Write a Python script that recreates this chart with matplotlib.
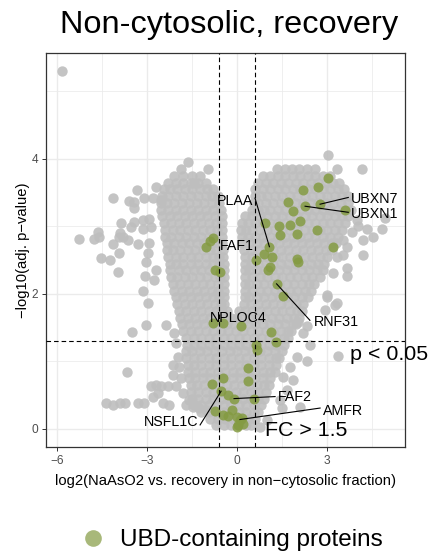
import matplotlib
matplotlib.use("Agg")
import matplotlib.pyplot as plt
from matplotlib.lines import Line2D
import numpy as np

plt.rcParams['font.family'] = ['Liberation Sans', 'DejaVu Sans']

# ---------------- data ----------------
# dense grey cloud of all proteins, entered row by row: (y, [x values])
grey_rows = [
    (3.95, [-1.64]),
    (3.85, [-1.87, -0.98, 1.32, 1.6, 1.82, 2.05, 2.32, 2.6, 3.32, 4.16]),
    (3.75, [-2.09, -1.8, -1.5, -1.25, 0.85, 1.1, 1.35, 1.6, 1.85, 2.1, 2.35, 2.6, 2.85, 3.1]),
    (3.65, [-2.3, -2.05, -1.8, -1.55, -1.3, -1.05, 0.7, 0.95, 1.2, 1.45, 1.7, 1.95, 2.2, 2.45, 2.7, 2.95, 3.2, 3.4]),
    (3.55, [-2.45, -2.25, -2.0, -1.75, -1.5, -1.25, -1.0, -0.8, 0.6, 0.85, 1.1, 1.35, 1.6, 1.85, 2.1, 2.35, 2.6, 2.85, 3.1, 3.35, 3.55]),
    (3.45, [-2.5, -2.3, -2.05, -1.8, -1.55, -1.3, -1.05, -0.85, -0.65, 0.6, 0.8, 1.0, 1.25, 1.5, 1.75, 2.0, 2.25, 2.5, 2.75, 3.0, 3.25, 3.5, 3.7]),
    (3.35, [-2.55, -2.35, -2.1, -1.85, -1.6, -1.35, -1.1, -0.85, -0.6, 0.55, 0.7, 0.95, 1.2, 1.45, 1.7, 1.95, 2.2, 2.45, 2.7, 2.95, 3.2, 3.45, 3.7]),
    (3.25, [-2.55, -2.3, -2.05, -1.8, -1.55, -1.3, -1.05, -0.8, -0.55, 0.5, 0.7, 0.9, 1.1, 1.35, 1.6, 1.85, 2.1, 2.35, 2.6, 2.85, 3.1, 3.35, 3.6, 3.8]),
    (3.15, [-2.5, -2.25, -2.0, -1.75, -1.5, -1.25, -1.0, -0.75, -0.5, 0.25, 0.5, 0.75, 1.0, 1.25, 1.5, 1.75, 2.0, 2.25, 2.5, 2.75, 3.0, 3.25, 3.5, 3.7]),
    (3.05, [-2.45, -2.2, -1.95, -1.7, -1.45, -1.2, -0.95, -0.7, -0.5, 0.15, 0.35, 0.6, 0.85, 1.1, 1.35, 1.6, 1.85, 2.1, 2.35, 2.6, 2.85, 3.1, 3.35, 3.6]),
    (2.95, [-2.4, -2.15, -1.9, -1.65, -1.4, -1.15, -0.9, -0.68, -0.5, 0.12, 0.3, 0.5, 0.75, 1.0, 1.25, 1.5, 1.75, 2.0, 2.25, 2.5, 2.75, 3.0, 3.25, 3.5]),
    (2.85, [-2.4, -2.2, -1.95, -1.7, -1.45, -1.2, -0.95, -0.72, -0.5, 0.15, 0.35, 0.6, 0.85, 1.1, 1.35, 1.6, 1.85, 2.1, 2.35, 2.6, 2.85, 3.1, 3.35]),
    (2.75, [-2.35, -2.1, -1.85, -1.6, -1.35, -1.1, -0.85, -0.65, -0.5, 0.18, 0.4, 0.65, 0.9, 1.15, 1.4, 1.65, 1.9, 2.15, 2.4, 2.65, 2.9, 3.15, 3.3]),
    (2.65, [-2.35, -2.15, -1.9, -1.65, -1.4, -1.15, -0.9, -0.7, -0.48, 0.22, 0.45, 0.7, 0.95, 1.2, 1.45, 1.7, 1.95, 2.2, 2.45, 2.7, 2.95, 3.15]),
    (2.55, [-2.3, -2.05, -1.8, -1.55, -1.3, -1.05, -0.8, -0.6, -0.48, 0.25, 0.5, 0.75, 1.0, 1.25, 1.5, 1.75, 2.0, 2.25, 2.5, 2.75, 3.0]),
    (2.45, [-2.25, -2.05, -1.8, -1.55, -1.3, -1.05, -0.8, -0.6, -0.45, 0.25, 0.45, 0.7, 0.95, 1.2, 1.45, 1.7, 1.95, 2.2, 2.45, 2.7, 2.9]),
    (2.35, [-2.22, -1.95, -1.7, -1.45, -1.2, -0.95, -0.7, -0.45, 0.25, 0.4, 0.65, 0.9, 1.15, 1.4, 1.65, 1.9, 2.15, 2.4, 2.65, 2.85]),
    (2.25, [-2.2, -2.0, -1.75, -1.5, -1.25, -1.0, -0.75, -0.58, -0.45, 0.25, 0.5, 0.75, 1.0, 1.25, 1.5, 1.75, 2.0, 2.25, 2.5, 2.75]),
    (2.15, [-2.15, -1.9, -1.65, -1.4, -1.15, -0.9, -0.65, -0.45, 0.25, 0.4, 0.65, 0.9, 1.15, 1.4, 1.65, 1.9, 2.15, 2.4, 2.55]),
    (2.05, [-2.1, -1.85, -1.6, -1.35, -1.1, -0.85, -0.62, -0.45, 0.25, 0.5, 0.75, 1.0, 1.25, 1.5, 1.75, 2.0, 2.25, 2.45]),
    (1.95, [-2.05, -1.8, -1.55, -1.3, -1.05, -0.8, -0.6, -0.45, 0.25, 0.4, 0.65, 0.9, 1.15, 1.4, 1.65, 1.9, 2.15, 2.35]),
    (1.85, [-2.0, -1.75, -1.5, -1.25, -1.0, -0.75, -0.55, -0.42, 0.22, 0.45, 0.7, 0.95, 1.2, 1.45, 1.7, 1.95, 2.2]),
    (1.75, [-1.95, -1.7, -1.45, -1.2, -0.95, -0.7, -0.5, -0.35, 0.05, 0.25, 0.5, 0.75, 1.0, 1.25, 1.5, 1.75, 2.0, 2.15]),
    (1.65, [-1.9, -1.65, -1.4, -1.15, -0.9, -0.65, -0.4, -0.2, 0.0, 0.2, 0.4, 0.65, 0.9, 1.15, 1.4, 1.65, 1.9, 2.05]),
    (1.55, [-1.85, -1.6, -1.35, -1.1, -0.85, -0.6, -0.35, -0.1, 0.15, 0.35, 0.6, 0.85, 1.1, 1.35, 1.6, 1.85, 1.95]),
    (1.45, [-1.8, -1.55, -1.3, -1.05, -0.8, -0.55, -0.3, -0.05, 0.2, 0.45, 0.7, 0.95, 1.2, 1.45, 1.7, 1.8]),
    (1.35, [-1.7, -1.45, -1.2, -0.95, -0.7, -0.45, -0.2, 0.05, 0.3, 0.55, 0.8, 1.05, 1.3, 1.55, 1.7]),
    (1.25, [-1.68, -1.45, -1.2, -0.95, -0.7, -0.45, -0.2, 0.05, 0.3, 0.55, 0.8, 1.05, 1.3, 1.55]),
    (1.15, [-1.7, -1.5, -1.25, -1.0, -0.75, -0.5, -0.25, 0.0, 0.25, 0.5, 0.75, 1.0, 1.25, 1.5]),
    (1.05, [-1.7, -1.45, -1.2, -0.95, -0.7, -0.45, -0.2, 0.05, 0.3, 0.55, 0.8, 1.05, 1.3, 1.4]),
    (0.95, [-1.65, -1.45, -1.2, -0.95, -0.7, -0.45, -0.2, 0.05, 0.3, 0.55, 0.8, 1.05, 1.3]),
    (0.85, [-1.65, -1.4, -1.15, -0.9, -0.65, -0.4, -0.15, 0.1, 0.35, 0.6, 0.85, 1.1, 1.25]),
    (0.75, [-1.6, -1.4, -1.15, -0.9, -0.65, -0.4, -0.15, 0.1, 0.35, 0.6, 0.85, 1.1]),
    (0.65, [-1.55, -1.35, -1.1, -0.85, -0.6, -0.35, -0.1, 0.15, 0.4, 0.65, 0.9, 1.05]),
    (0.55, [-1.55, -1.3, -1.05, -0.8, -0.55, -0.3, -0.05, 0.2, 0.45, 0.7, 0.95]),
    (0.45, [-1.5, -1.3, -1.05, -0.8, -0.55, -0.3, -0.05, 0.2, 0.45, 0.7, 0.9]),
    (0.35, [-1.45, -1.2, -0.95, -0.7, -0.45, -0.2, 0.05, 0.3, 0.55, 0.8]),
    (0.25, [-1.2, -0.95, -0.7, -0.45, -0.2, 0.05, 0.3, 0.55, 0.7]),
    (0.15, [-0.9, -0.65, -0.4, -0.15, 0.1, 0.35, 0.6]),
    (0.06, [-0.7, -0.45, -0.2, 0.05, 0.3, 0.45]),
]

# scattered grey proteins outside the dense cloud
grey_extra_x = [-5.84, -2.7, -3.34, -4.14, -3.59, -3.42, -3.42, -3.09, -2.81, -2.53, -1.42,
                -3.87, -3.42, -3.14, -2.92, -3.53, -3.14, -2.87, -4.64, -4.76, -4.59, -5.26,
                -3.94, -3.8, -3.64, -3.9, -4.12, -3.31, -3.94, -4.53, -4.23, -3.98, -3.06,
                -3.14, -2.98, -3.03, -2.92, -2.7, -2.76,
                -2.98, -3.03, -3.5, -2.37, -3.67, -4.37, -4.14, -3.9, -3.72, -3.31, -3.09,
                -2.81, -2.64, -2.48, -2.26, -2.87, -2.7, -2.53, -2.31, -2.14, -1.87, -2.09,
                -2.03, -1.98, -1.92, -2.14, -2.03, -1.81, -1.59, -1.7, -1.48, -1.26, -1.03,
                3.04, 4.82, 4.54, 4.21, 4.04, 4.32, 4.93, 3.66, 3.66, 2.99, 3.99, 3.82,
                3.54, 3.66, 4.21, 3.32, 3.54, 3.21,
                3.38, 2.32, 1.88, 2.1, 3.27, 2.32, 2.21, 2.04, 2.43, 2.93, 1.99, 1.77,
                1.54, 1.66, 1.43, 1.49, 0.99, 0.77, 2.99, 3.32]
grey_extra_y = [5.31, 3.59, 3.54, 3.42, 3.38, 3.37, 3.27, 3.42, 3.42, 3.39, 3.64,
                3.05, 3.07, 3.09, 3.11, 2.99, 2.97, 2.99, 2.92, 2.81, 2.85, 2.81,
                2.84, 2.84, 2.8, 2.9, 2.74, 2.74, 2.6, 2.53, 2.51, 2.33, 2.26,
                2.05, 2.6, 2.48, 2.75, 2.36, 2.21,
                1.86, 1.54, 1.44, 1.54, 0.85, 0.38, 0.36, 0.38, 0.38, 0.38, 0.38,
                0.48, 0.53, 0.38, 0.36, 0.63, 0.65, 0.63, 0.63, 0.8, 0.75, 1.42,
                1.27, 1.07, 0.92, 0.95, 0.63, 0.53, 0.43, 0.36, 0.33, 0.31, 0.28,
                4.06, 2.97, 2.85, 2.58, 3.0, 2.97, 3.12, 2.38, 2.26, 1.99, 3.09, 2.92,
                2.8, 2.7, 2.8, 2.55, 2.58, 2.31,
                1.08, 1.0, 0.73, 0.33, 1.84, 1.52, 1.42, 1.59, 1.24, 1.76, 1.07, 0.92,
                0.77, 0.58, 0.43, 0.31, 0.13, 0.03, 1.96, 1.86]

# UBD-containing proteins (highlighted)
ubd_x = [3.04, 2.71, 2.19, 2.77, 2.27, 1.71, 1.88, 3.6, 2.1, 1.77, 1.4, 0.93, 1.99, 1.43,
         2.68, 3.19, 1.08, 0.91, 1.16, 0.63, 1.1, 1.02, 1.99, 2.02, 1.32, 1.54,
         -1.03, -0.79, -0.9, -0.73, -0.57,
         -0.79, -0.46, 0.13, 1.12, 1.3, 0.63, 0.67, 0.38, 0.38, -0.46, -0.84, -0.53,
         -0.29, -0.1, 0.57, -0.73, -0.46, -0.18, -0.29, -0.01, 0.16, 0.04, -0.01, 0.21, 0.1]
ubd_y = [3.72, 3.59, 3.54, 3.33, 3.30, 3.37, 3.23, 3.24, 3.08, 3.02, 3.0, 3.05, 2.89, 2.87,
         2.95, 2.69, 2.7, 2.59, 2.55, 2.51, 2.4, 2.36, 2.52, 2.48, 2.15, 1.97,
         2.69, 2.83, 2.78, 2.36, 2.33,
         1.57, 1.57, 1.53, 1.43, 1.29, 1.24, 1.17, 0.91, 0.71, 0.76, 0.67, 0.56,
         0.5, 0.45, 0.45, 0.26, 0.21, 0.28, 0.19, 0.18, 0.17, 0.06, 0.03, 0.08, 0.14]

# labelled genes: name, index of point in ubd arrays (or None = no segment)
label_names = ["PLAA", "FAF1", "UBXN7", "UBXN1", "RNF31", "NPLOC4", "FAF2", "AMFR", "NSFL1C"]
label_point = [16, None, 3, 4, 24, None, 44, 55, 42]
# label placement (text anchor) and segment end, in data units
label_text_xy = [(-0.07, 3.38), (-0.02, 2.71), (3.8, 3.41), (3.8, 3.19), (3.3, 1.59),
                 (0.05, 1.64), (1.37, 0.47), (2.87, 0.27), (-2.2, 0.10)]
label_ha = ["center", "center", "left", "left", "center", "center", "left", "left", "center"]
label_seg_end = [(0.6, 3.42), None, (3.71, 3.43), (3.71, 3.21), (2.43, 1.61),
                 None, (1.27, 0.48), (2.77, 0.31), (-1.23, 0.06)]

fc_cut = np.log2(1.5)
p_cut = -np.log10(0.05)

# ---------------- figure ----------------
W, H = 431, 555
fig = plt.figure(figsize=(W / 100, H / 100), dpi=100)
ax = fig.add_axes([46 / W, 1 - 447 / H, (405 - 46) / W, (447 - 53) / H])

gx = [x for y, xs in grey_rows for x in xs] + grey_extra_x
gy = [y for y, xs in grey_rows for x in xs] + grey_extra_y

grey = '#BEBEBE'
green = '#849B42'
ax.scatter(gx, gy, s=56, color=grey, alpha=0.9, linewidths=0, zorder=2)
ax.scatter(ubd_x, ubd_y, s=52, color=green, alpha=0.85, linewidths=0, zorder=3)

dash = dict(color='black', lw=0.8, dashes=(4.1, 2.7), zorder=4)
ax.axvline(-fc_cut, **dash)
ax.axvline(fc_cut, **dash)
ax.axhline(p_cut, **dash)

for name, pi, (tx, ty), ha, seg in zip(label_names, label_point, label_text_xy,
                                       label_ha, label_seg_end):
    if pi is not None and seg is not None:
        ax.plot([ubd_x[pi], seg[0]], [ubd_y[pi], seg[1]], color='black', lw=0.8, zorder=5)
    ax.text(tx, ty, name, ha=ha, va='center', fontsize=10.3, color='black', zorder=6)

ax.text(3.77, 1.02, "p < 0.05", ha='left', va='baseline', fontsize=15.4,
        clip_on=False, zorder=6)
ax.text(0.93, -0.11, "FC > 1.5", ha='left', va='baseline', fontsize=15.4, zorder=6)

ax.set_xlim(-6.367, 5.6)
ax.set_ylim(-0.267, 5.57)
ax.set_xticks([-6, -3, 0, 3])
ax.set_xticks([-4.5, -1.5, 1.5, 4.5], minor=True)
ax.set_yticks([0, 2, 4])
ax.set_yticks([1, 3, 5], minor=True)
ax.grid(True, which='major', color='#EBEBEB', lw=1.0, zorder=0)
ax.grid(True, which='minor', color='#EBEBEB', lw=0.55, zorder=0)
ax.set_axisbelow(True)
ax.tick_params(which='major', length=2.9, width=0.7, color='#333333',
               labelsize=8.6, labelcolor='#4D4D4D', pad=2.5)
ax.tick_params(which='minor', length=0)
for sp in ax.spines.values():
    sp.set_color('#333333')
    sp.set_linewidth(0.9)

ax.set_xlabel("log2(NaAsO2 vs. recovery in non\u2212cytosolic fraction)", fontsize=10.6)
ax.xaxis.set_label_coords(0.5, -0.068)
ax.set_ylabel("\u2212log10(adj. p\u2212value)", fontsize=10.6)
ax.yaxis.set_label_coords(-0.045, 0.5)

fig.text(229 / W, 1 - 33 / H, "Non-cytosolic, recovery", ha='center', va='baseline',
         fontsize=23.4)

handle = Line2D([], [], marker='o', ls='', color=green, alpha=0.7, markersize=12,
                markeredgewidth=0)
fig.legend([handle], ["UBD-containing proteins"], loc='center left',
           bbox_to_anchor=(81 / W, 1 - 540 / H), frameon=False, fontsize=17.5,
           handlelength=1.0, handletextpad=0.6, borderpad=0, borderaxespad=0)

fig.savefig("out.png", dpi=100)
